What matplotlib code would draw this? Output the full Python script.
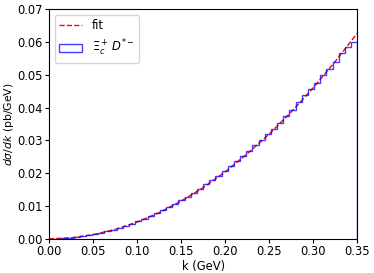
import matplotlib
matplotlib.use("Agg")
import matplotlib.pyplot as plt
import numpy as np

# Histogram: 50 bins from 0 to 0.35 GeV
bin_lo = 0.0
bin_hi = 0.35
n_bins = 50
hist_vals = [0.00001, 0.00006, 0.00016, 0.00031, 0.00052, 0.00078, 0.00110, 0.00142, 0.00186, 0.00229,
             0.00282, 0.00336, 0.00398, 0.00462, 0.00540, 0.00620, 0.00700, 0.00800, 0.00870, 0.00975,
             0.01070, 0.01185, 0.01290, 0.01400, 0.01520, 0.01660, 0.01800, 0.01920, 0.02060, 0.02210,
             0.02370, 0.02520, 0.02680, 0.02850, 0.03010, 0.03190, 0.03360, 0.03540, 0.03730, 0.03920,
             0.04180, 0.04370, 0.04570, 0.04740, 0.05000, 0.05170, 0.05380, 0.05650, 0.05830, 0.06000]

# Fit curve sampled points
fit_k = [0.0, 0.025, 0.05, 0.075, 0.10, 0.125, 0.15, 0.175, 0.20, 0.225, 0.25, 0.275, 0.30, 0.325, 0.35]
fit_v = [0.0, 0.00032, 0.00128, 0.00287, 0.00511, 0.00798, 0.0115, 0.0156, 0.0204, 0.0259,
         0.0319, 0.0386, 0.0460, 0.0540, 0.0626]

xticks = [0.00, 0.05, 0.10, 0.15, 0.20, 0.25, 0.30, 0.35]
yticks = [0.00, 0.01, 0.02, 0.03, 0.04, 0.05, 0.06, 0.07]

fs = 8.3
fig = plt.figure(figsize=(3.74, 2.73), dpi=100)
ax = fig.add_axes([0.131, 0.125, 0.824, 0.842])

edges = np.linspace(bin_lo, bin_hi, n_bins + 1)
centers = 0.5 * (edges[:-1] + edges[1:])
ax.plot(fit_k, fit_v, 'r--', lw=1.0, label='fit')
ax.hist(centers, bins=edges, weights=hist_vals, histtype='step', color='blue',
        lw=1.0, alpha=0.75, label=r'$\Xi_c^+\,D^{*-}$')

ax.set_xlim(0, 0.35)
ax.set_ylim(0, 0.07)
ax.set_xticks(xticks)
ax.set_yticks(yticks)
ax.set_xticklabels([f"{v:.2f}" for v in xticks])
ax.set_yticklabels([f"{v:.2f}" for v in yticks])
ax.tick_params(labelsize=fs, length=3, pad=1.5)
ax.set_xlabel('k (GeV)', fontsize=fs, labelpad=1)
ax.set_ylabel(r'$d\sigma/dk$ (pb/GeV)', fontsize=7.8, labelpad=1)
ax.legend(loc='upper left', fontsize=fs, handlelength=2.0)

fig.savefig('out.png', dpi=100)
